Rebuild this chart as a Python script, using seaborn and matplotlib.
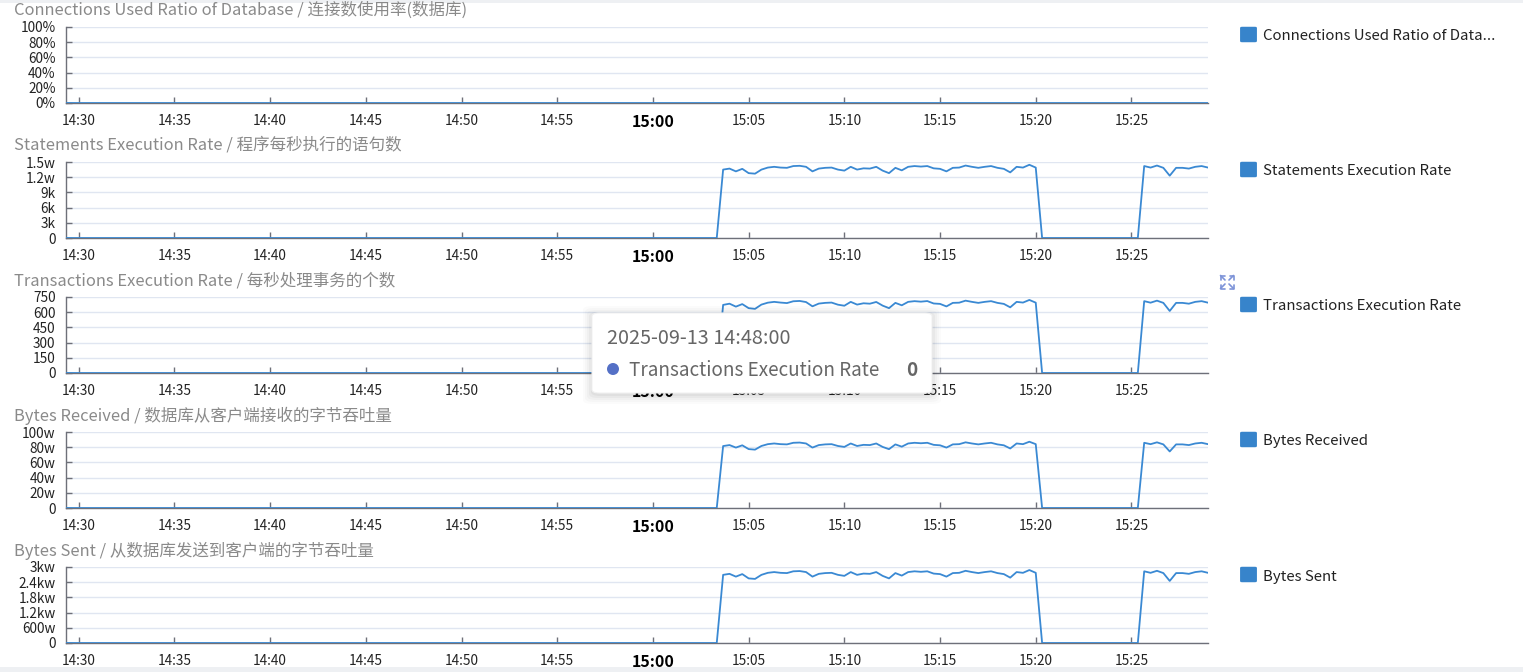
import numpy as np
import pandas as pd
import matplotlib
matplotlib.use('Agg')
import matplotlib.pyplot as plt
import seaborn as sns
from matplotlib.patches import FancyBboxPatch, Ellipse, Rectangle
from matplotlib.lines import Line2D

# ---------------- data ----------------
times = pd.date_range('2025-09-13 14:29:20', '2025-09-13 15:29:00', freq='20s')
LEAD_ZEROS = 103   # 14:29:20 .. 15:03:20
MID_ZEROS = 16     # 15:20:20 .. 15:25:20

connections_ratio = [0] * 180

statements_seg1 = [13500, 13700, 13150, 13650, 12800, 12700, 13500, 13900, 14050, 13900,
                   13850, 14200, 14250, 14050, 13150, 13700, 13850, 13900, 13500, 13300,
                   14050, 13500, 13750, 13700, 14050, 13300, 12800, 13850, 13350, 14050,
                   14200, 14100, 14200, 13750, 13650, 13150, 13850, 13900, 14300, 14050,
                   13850, 14050, 14200, 13850, 13650, 12950, 14050, 13900, 14450, 13900]
statements_seg2 = [14200, 13900, 14300, 13850, 12300, 13850, 13850, 13700, 14050, 14200, 13900]

transactions_seg1 = [672, 684, 655, 680, 640, 633, 675, 694, 702, 695,
                     690, 708, 711, 700, 658, 685, 692, 695, 674, 664,
                     702, 675, 688, 684, 701, 665, 640, 692, 668, 702,
                     709, 704, 710, 686, 682, 657, 692, 694, 714, 702,
                     692, 702, 709, 692, 682, 648, 702, 695, 721, 694]
transactions_seg2 = [709, 694, 714, 692, 612, 692, 692, 684, 702, 709, 694]

received_seg1 = [815000, 828000, 795000, 825000, 775000, 768000, 816000, 840000, 849000, 840000,
                 837000, 858000, 861000, 849000, 795000, 828000, 837000, 840000, 816000, 804000,
                 849000, 816000, 831000, 828000, 849000, 804000, 774000, 837000, 807000, 849000,
                 858000, 852000, 858000, 831000, 825000, 795000, 837000, 840000, 864000, 849000,
                 837000, 849000, 858000, 837000, 825000, 783000, 849000, 840000, 872000, 840000]
received_seg2 = [858000, 840000, 864000, 837000, 744000, 837000, 837000, 828000, 849000, 858000, 840000]

sent_seg1 = [26900000, 27300000, 26200000, 27200000, 25500000, 25300000, 26900000, 27700000, 28000000, 27700000,
             27600000, 28300000, 28400000, 28000000, 26200000, 27300000, 27600000, 27700000, 26900000, 26500000,
             28000000, 26900000, 27400000, 27300000, 28000000, 26500000, 25500000, 27600000, 26600000, 28000000,
             28300000, 28100000, 28300000, 27400000, 27200000, 26200000, 27600000, 27700000, 28500000, 28000000,
             27600000, 28000000, 28300000, 27600000, 27200000, 25800000, 28000000, 27700000, 28800000, 27700000]
sent_seg2 = [28300000, 27700000, 28500000, 27600000, 24500000, 27600000, 27600000, 27300000, 28000000, 28300000, 27700000]


def full(seg1, seg2):
    return [0] * LEAD_ZEROS + seg1 + [0] * MID_ZEROS + seg2


titles = ['Connections Used Ratio of Database / 连接数使用率(数据库)',
          'Statements Execution Rate / 程序每秒执行的语句数',
          'Transactions Execution Rate / 每秒处理事务的个数',
          'Bytes Received / 数据库从客户端接收的字节吞吐量',
          'Bytes Sent / 从数据库发送到客户端的字节吞吐量']
legend_names = ['Connections Used Ratio of Data...', 'Statements Execution Rate',
                'Transactions Execution Rate', 'Bytes Received', 'Bytes Sent']
series = [connections_ratio,
          full(statements_seg1, statements_seg2),
          full(transactions_seg1, transactions_seg2),
          full(received_seg1, received_seg2),
          full(sent_seg1, sent_seg2)]
y_ticks = [[0, 20, 40, 60, 80, 100],
           [0, 3000, 6000, 9000, 12000, 15000],
           [0, 150, 300, 450, 600, 750],
           [0, 200000, 400000, 600000, 800000, 1000000],
           [0, 6000000, 12000000, 18000000, 24000000, 30000000]]
y_tick_labels = [['0%', '20%', '40%', '60%', '80%', '100%'],
                 ['0', '3k', '6k', '9k', '1.2w', '1.5w'],
                 ['0', '150', '300', '450', '600', '750'],
                 ['0', '20w', '40w', '60w', '80w', '100w'],
                 ['0', '600w', '1.2kw', '1.8kw', '2.4kw', '3kw']]
x_tick_labels = ['14:30', '14:35', '14:40', '14:45', '14:50', '14:55', '15:00',
                 '15:05', '15:10', '15:15', '15:20', '15:25']
x_tick_times = [pd.Timestamp('2025-09-13 ' + t) for t in x_tick_labels]

tooltip_time = '2025-09-13 14:48:00'
tooltip_series = 'Transactions Execution Rate'
tooltip_value = '0'

# ---------------- style ----------------
sns.set_theme(style='white')
plt.rcParams['font.family'] = ['Noto Sans CJK SC', 'DejaVu Sans']

LINE = '#3a89d3'
AXIS = '#6e7079'
GRID = '#e0e6f1'
W, H = 1523, 672
fig = plt.figure(figsize=(W / 100, H / 100), dpi=100)
fig.patch.set_facecolor('white')


def fx(px):
    return px / W


def fy(py):
    return 1 - py / H


# page bands
fig.patches.append(Rectangle((0, fy(3)), 1, 3 / H, transform=fig.transFigure,
                             facecolor='#eef0f3', edgecolor='none', zorder=0))
fig.patches.append(Rectangle((0, 0), 1, 5 / H, transform=fig.transFigure,
                             facecolor='#eef0f3', edgecolor='none', zorder=0))

for i in range(5):
    top = 27 + 135 * i
    bot = 103 + 135 * i
    ax = fig.add_axes([fx(66), fy(bot), fx(1208) - fx(66), (bot - top) / H])
    ax.set_facecolor('none')
    df = pd.DataFrame({'time': times, 'value': series[i]})
    sns.lineplot(data=df, x='time', y='value', ax=ax, color=LINE,
                 linewidth=1.3 if i > 0 else 2.0, zorder=3)
    ax.set_xlim(times[0], times[-1])
    ax.set_ylim(0, y_ticks[i][-1])
    ax.set_yticks(y_ticks[i])
    ax.set_yticklabels(y_tick_labels[i])
    ax.set_xticks(x_tick_times)
    ax.set_xticklabels(x_tick_labels)
    ax.grid(axis='y', color=GRID, linewidth=1)
    ax.grid(axis='x', visible=False)
    for s in ['top', 'right']:
        ax.spines[s].set_visible(False)
    for s in ['left', 'bottom']:
        ax.spines[s].set_color(AXIS)
        ax.spines[s].set_linewidth(1)
    ax.tick_params(direction='in', length=4, width=1, color=AXIS,
                   labelsize=9.8, labelcolor='#222')
    ax.tick_params(axis='y', pad=7.5, left=True)
    ax.tick_params(axis='x', pad=8, bottom=True)
    ax.set_xlabel('')
    ax.set_ylabel('')
    for lab in ax.get_xticklabels():
        if lab.get_text() == '15:00':
            lab.set_fontweight('bold')
            lab.set_fontsize(11.5)
            lab.set_color('#000')

    # title
    fig.text(fx(14), fy(top - 16.5), titles[i], fontsize=11.9, color='#8a8a8a',
             ha='left', va='center')
    # legend
    fig.patches.append(FancyBboxPatch((fx(1242), fy(top + 14)), 13 / W, 13 / H,
                                      boxstyle='round,pad=0.0008', transform=fig.transFigure,
                                      facecolor='#3784cb', edgecolor='#3784cb', zorder=5))
    fig.text(fx(1263), fy(top + 9.5), legend_names[i], fontsize=10.8, color='#222',
             ha='left', va='center')

# expand icon
cx, cy = 1227, 282
for sx in (-1, 1):
    for sy in (-1, 1):
        x0, y0 = cx + sx * 2, cy + sy * 2
        x1, y1 = cx + sx * 6.5, cy + sy * 6.5
        fig.lines.append(Line2D([fx(x0), fx(x1)], [fy(y0), fy(y1)], transform=fig.transFigure,
                                color='#7d93d8', linewidth=1.2, zorder=6))
        fig.lines.append(Line2D([fx(x1), fx(x1), fx(x1 - sx * 4)],
                                [fy(y1 - sy * 4), fy(y1), fy(y1)], transform=fig.transFigure,
                                color='#7d93d8', linewidth=1.2, zorder=6))

# tooltip
bx0, by0, bx1, by1 = 592, 313, 932, 393
for k, a in enumerate([0.035, 0.03, 0.025, 0.02, 0.015]):
    g = 2 + k * 2
    fig.patches.append(FancyBboxPatch((fx(bx0 - g + 1), fy(by1 + g + 1)), (bx1 - bx0 + 2 * g - 2) / W,
                                      (by1 - by0 + 2 * g - 2) / H,
                                      boxstyle='round,pad=0,rounding_size=0.006',
                                      transform=fig.transFigure, facecolor='black', alpha=a,
                                      edgecolor='none', zorder=9))
fig.patches.append(FancyBboxPatch((fx(bx0), fy(by1)), (bx1 - bx0) / W, (by1 - by0) / H,
                                  boxstyle='round,pad=0,rounding_size=0.005',
                                  transform=fig.transFigure, facecolor='white',
                                  edgecolor='#f2f2f2', linewidth=0.8, zorder=10))
fig.text(fx(607), fy(339), tooltip_time, fontsize=14.3, color='#666666',
         ha='left', va='center', zorder=11)
fig.patches.append(Ellipse((fx(613), fy(369)), 12 / W, 12 / H, transform=fig.transFigure,
                           facecolor='#5470c6', edgecolor='none', zorder=11))
fig.text(fx(629), fy(371), tooltip_series, fontsize=13.6, color='#666666',
         ha='left', va='center', zorder=11)
fig.text(fx(917), fy(371), tooltip_value, fontsize=13.6, color='#666666',
         fontweight='bold', ha='right', va='center', zorder=11)

fig.savefig('out.png', dpi=100, facecolor='white')
